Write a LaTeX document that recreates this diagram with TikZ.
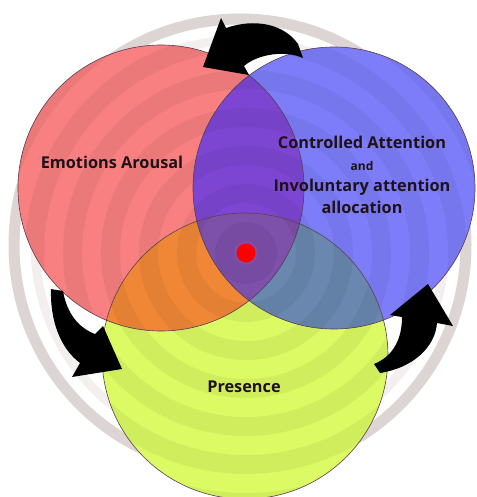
\documentclass[tikz,border=0pt]{standalone}
\usepackage{fontspec}
\setmainfont{Open Sans}
\usetikzlibrary{positioning, arrows.meta}
\definecolor{vnred}{HTML}{F88080}
\definecolor{vnblue}{HTML}{7D7DFA}
\definecolor{vngreen}{HTML}{DCFA64}
\definecolor{vnpurple}{HTML}{7D46D2}
\definecolor{vnorange}{HTML}{F08737}
\definecolor{vnslate}{HTML}{6987AF}
\definecolor{vncore}{HTML}{7D50AA}
\definecolor{vnring}{HTML}{DDD5D3}
\definecolor{vnringlt}{HTML}{F3EFEE}
\definecolor{vnedge}{HTML}{5A3A50}
\definecolor{vntext}{HTML}{1E1218}

\begin{document}
\begin{tikzpicture}[x=1pt, y=-1pt,
    font=\bfseries\fontsize{16.3}{21.5}\selectfont,
    lbl/.style={text=vntext, align=center, inner sep=0pt},
    seta/.style={fill=black}]
    \clip (0,0) rectangle (476,497);
    \fill[white] (0,0) rectangle (476,497);
    \coordinate (emo) at (161,188);
    \coordinate (att) at (334,188);
    \coordinate (pre) at (245,356);
    \coordinate (ctr) at (246,253);
    \coordinate (rim) at (240,245);
    % anel de fundo
    \draw[vnringlt, line width=9] (rim) circle (205);
    \draw[vnring, line width=11] (rim) circle (226);
    % circulos
    \fill[vnred] (emo) circle (143);
    \fill[vnblue] (att) circle (141);
    \fill[vngreen] (pre) circle (143);
    % intersecoes
    \begin{scope}
      \clip (emo) circle (143);
      \fill[vnpurple] (att) circle (141);
      \fill[vnorange] (pre) circle (143);
    \end{scope}
    \begin{scope}
      \clip (att) circle (141);
      \fill[vnslate] (pre) circle (143);
    \end{scope}
    \begin{scope}
      \clip (emo) circle (143);
      \clip (att) circle (141);
      \fill[vncore] (pre) circle (143);
    \end{scope}
    % faixas concentricas
    \begin{scope}
      \clip (emo) circle (143) (att) circle (141) (pre) circle (143);
      \foreach \r in {0,38,...,420}
        \fill[black, opacity=0.05, even odd rule]
          (ctr) circle (\r+12) (ctr) circle (\r+31);
    \end{scope}
    % contornos
    \draw[vnedge, line width=0.6] (emo) circle (143) (att) circle (141) (pre) circle (143);
    % ponto central
    \fill[red] (ctr) circle (9.5);
    % setas
    \fill[seta] (303,58) -- (298,44) .. controls (284,24) and (255,18) .. (226,28)
      -- (221,18) -- (203,67) -- (249,75) -- (244,66)
      .. controls (258,54) and (285,50) .. (303,58) -- cycle;
    \fill[seta] (51,289) -- (63,291) .. controls (67,314) and (79,328) .. (95,334)
      -- (103,326) -- (122,369) -- (72,377) -- (80,363)
      .. controls (60,348) and (50,320) .. (51,289) -- cycle;
    \fill[seta] (374,364) .. controls (394,356) and (402,338) .. (402,317)
      -- (390,315) -- (428,284) -- (453,326) -- (437,323)
      .. controls (435,348) and (412,368) .. (380,373) -- cycle;
    % rotulos
    \node[lbl] (emotxt) at (112,162) {Emotions Arousal};
    \node[lbl] (atttxt) at (362,175) {Controlled Attention\\
      {\fontsize{12}{13}\selectfont and}\\Involuntary attention\\allocation};
    \node[lbl] (pretxt) at (244,387) {Presence};
\end{tikzpicture}
\end{document}
